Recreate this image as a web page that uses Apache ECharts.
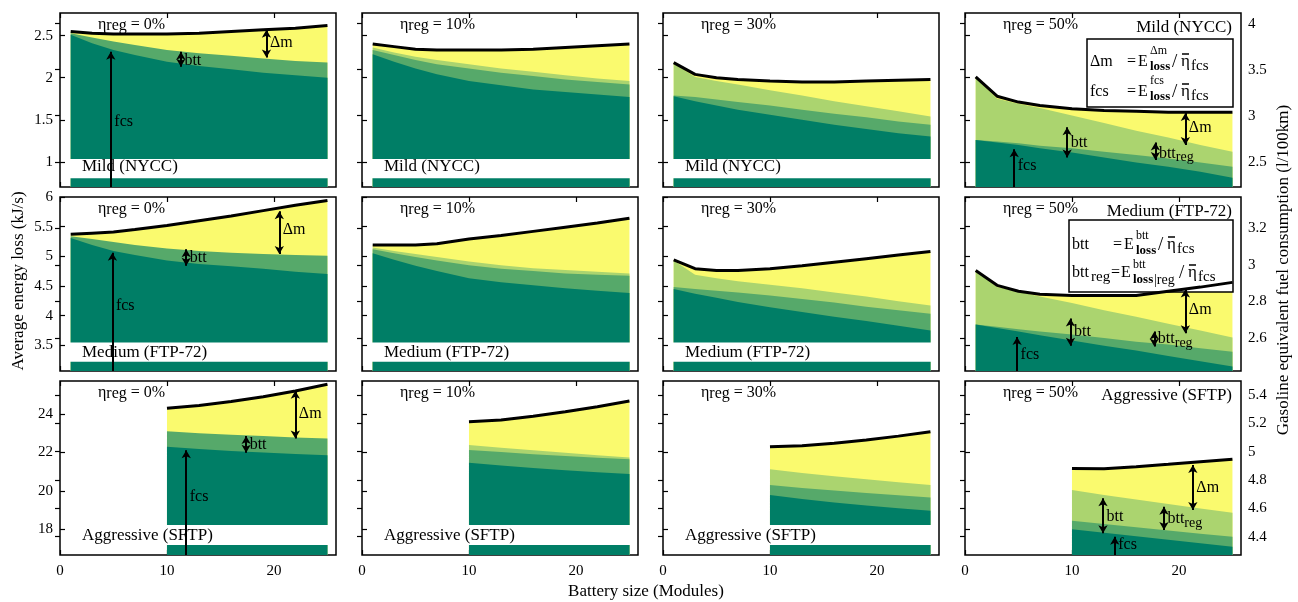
<!DOCTYPE html>
<html>
<head>
<meta charset="utf-8">
<script src="https://cdn.jsdelivr.net/npm/echarts@6/dist/echarts.min.js"></script>
<style>
  html, body { margin: 0; background: #fff; }
  #chart { width: 1298px; height: 602px; }
</style>
</head>
<body>
<div id="chart"></div>
<script>
const FONT = '"Liberation Serif", "DejaVu Serif", serif';
const C_DM = '#fafa6e', C_REG = '#abd46f', C_BTT = '#56a96a', C_FCS = '#007e66';

// battery size (modules)
const xsFull = [1, 3, 5, 7, 10, 13, 16, 19, 22, 25];
const xsAggr = [10, 13, 16, 19, 22, 25];
const etas = ['0%', '10%', '30%', '50%'];
const cycles = ['Mild (NYCC)', 'Medium (FTP-72)', 'Aggressive (SFTP)'];

// top of each layer (kJ/s), one row per eta_reg: 0%, 10%, 30%, 50%
const mildTotal = [
  [2.55, 2.53, 2.52, 2.52, 2.52, 2.53, 2.55, 2.57, 2.59, 2.62],
  [2.40, 2.37, 2.34, 2.33, 2.33, 2.33, 2.34, 2.36, 2.38, 2.40],
  [2.18, 2.04, 2.00, 1.98, 1.96, 1.95, 1.95, 1.96, 1.97, 1.98],
  [2.01, 1.78, 1.71, 1.67, 1.63, 1.61, 1.60, 1.59, 1.59, 1.59]
];
const mildReg = [
  null,
  [2.36, 2.30, 2.25, 2.21, 2.16, 2.11, 2.07, 2.03, 1.99, 1.96],
  [2.17, 2.01, 1.96, 1.92, 1.85, 1.79, 1.72, 1.66, 1.60, 1.54],
  [2.00, 1.75, 1.69, 1.64, 1.55, 1.46, 1.37, 1.29, 1.20, 1.12]
];
const mildBtt = [
  [2.53, 2.48, 2.43, 2.39, 2.33, 2.29, 2.26, 2.23, 2.20, 2.18],
  [2.33, 2.27, 2.21, 2.16, 2.11, 2.06, 2.02, 1.98, 1.95, 1.92],
  [1.79, 1.77, 1.74, 1.71, 1.67, 1.62, 1.57, 1.53, 1.48, 1.44],
  [1.26, 1.24, 1.22, 1.19, 1.16, 1.12, 1.08, 1.04, 0.99, 0.94]
];
const mildFcs = [
  [2.51, 2.41, 2.33, 2.27, 2.19, 2.14, 2.10, 2.06, 2.03, 2.00],
  [2.28, 2.19, 2.11, 2.04, 1.96, 1.91, 1.86, 1.83, 1.80, 1.77],
  [1.78, 1.72, 1.67, 1.62, 1.56, 1.50, 1.44, 1.39, 1.34, 1.30],
  [1.26, 1.23, 1.20, 1.16, 1.11, 1.05, 0.99, 0.94, 0.88, 0.81]
];

const medTotal = [
  [5.37, 5.39, 5.41, 5.45, 5.52, 5.60, 5.68, 5.77, 5.86, 5.94],
  [5.19, 5.19, 5.19, 5.21, 5.29, 5.35, 5.42, 5.49, 5.56, 5.64],
  [4.94, 4.79, 4.76, 4.76, 4.79, 4.84, 4.90, 4.96, 5.02, 5.08],
  [4.76, 4.51, 4.41, 4.36, 4.34, 4.34, 4.34, 4.41, 4.48, 4.56]
];
const medReg = [
  null,
  [5.15, 5.09, 5.04, 4.99, 4.91, 4.85, 4.80, 4.77, 4.74, 4.71],
  [4.93, 4.69, 4.63, 4.58, 4.52, 4.46, 4.39, 4.32, 4.24, 4.17],
  [4.76, 4.48, 4.40, 4.32, 4.21, 4.09, 3.98, 3.86, 3.75, 3.63]
];
const medBtt = [
  [5.34, 5.29, 5.24, 5.19, 5.13, 5.09, 5.06, 5.04, 5.02, 5.01],
  [5.12, 5.05, 4.99, 4.93, 4.85, 4.79, 4.75, 4.71, 4.69, 4.67],
  [4.48, 4.45, 4.42, 4.39, 4.34, 4.28, 4.22, 4.15, 4.09, 4.03],
  [3.85, 3.81, 3.77, 3.73, 3.68, 3.62, 3.56, 3.51, 3.45, 3.39]
];
const medFcs = [
  [5.31, 5.19, 5.09, 5.02, 4.93, 4.87, 4.83, 4.79, 4.74, 4.70],
  [5.05, 4.94, 4.84, 4.75, 4.63, 4.56, 4.51, 4.46, 4.42, 4.38],
  [4.45, 4.37, 4.30, 4.23, 4.14, 4.06, 3.98, 3.91, 3.83, 3.75],
  [3.85, 3.79, 3.73, 3.67, 3.58, 3.49, 3.41, 3.32, 3.23, 3.14]
];

const aggTotal = [
  [24.30, 24.45, 24.65, 24.90, 25.20, 25.55],
  [23.60, 23.69, 23.88, 24.12, 24.38, 24.68],
  [22.30, 22.35, 22.48, 22.65, 22.85, 23.08],
  [21.17, 21.15, 21.26, 21.38, 21.52, 21.64]
];
const aggReg = [
  null,
  [22.39, 22.25, 22.11, 21.98, 21.86, 21.74],
  [21.12, 20.93, 20.76, 20.60, 20.45, 20.30],
  [20.04, 19.79, 19.55, 19.31, 19.08, 18.86]
];
const aggBtt = [
  [23.11, 23.00, 22.92, 22.85, 22.78, 22.73],
  [22.13, 22.02, 21.91, 21.81, 21.72, 21.64],
  [20.30, 20.15, 20.02, 19.89, 19.77, 19.66],
  [18.44, 18.27, 18.10, 17.93, 17.77, 17.61]
];
const aggFcs = [
  [22.30, 22.18, 22.08, 22.00, 21.92, 21.86],
  [21.46, 21.32, 21.19, 21.07, 20.97, 20.88],
  [19.78, 19.58, 19.40, 19.24, 19.09, 18.96],
  [18.00, 17.82, 17.63, 17.45, 17.27, 17.09]
];

// axes per row
const leftMin = [0.70, 3.065, 16.66];
const leftMax = [2.77, 6.0, 25.72];
const leftTicks = [[1, 1.5, 2, 2.5], [3.5, 4, 4.5, 5, 5.5, 6], [18, 20, 22, 24]];
const rightMin = [2.226, 2.42, 4.27];
const rightMax = [4.116, 3.37, 5.50];
const rightTicks = [[2.5, 3, 3.5, 4], [2.6, 2.8, 3, 3.2], [4.4, 4.6, 4.8, 5, 5.2, 5.4]];
const xTicks = [0, 10, 20];
// white "broken axis" band near the bottom (kJ/s)
const bandLo = [0.805, 3.22, 17.18];
const bandHi = [1.032, 3.545, 18.22];

const rows = [
  { xs: xsFull, total: mildTotal, reg: mildReg, btt: mildBtt, fcs: mildFcs },
  { xs: xsFull, total: medTotal, reg: medReg, btt: medBtt, fcs: medFcs },
  { xs: xsAggr, total: aggTotal, reg: aggReg, btt: aggBtt, fcs: aggFcs }
];

// annotations: arrows [x, from, to, twoHeads] (from null = axis bottom), texts [x, y, text]
const notes = {
  '0-0': { arrows: [[4.75, null, 2.31], [11.3, 2.31, 2.13, 1], [19.3, 2.57, 2.24, 1]],
           texts: [[4.75, 1.47, 'fcs'], [11.3, 2.20, 'btt'], [19.3, 2.41, 'Δm']] },
  '1-0': { arrows: [[4.9, null, 5.06], [11.8, 5.12, 4.84, 1], [20.5, 5.76, 5.04, 1]],
           texts: [[4.9, 4.17, 'fcs'], [11.8, 4.97, 'btt'], [20.5, 5.45, 'Δm']] },
  '2-0': { arrows: [[11.8, null, 22.12], [17.4, 22.85, 21.98, 1], [22.0, 25.21, 22.73, 1]],
           texts: [[11.8, 19.7, 'fcs'], [17.4, 22.42, 'btt'], [22.0, 24.03, 'Δm']] },
  '0-3': { arrows: [[4.6, null, 1.15], [9.55, 1.41, 1.05, 1], [20.6, 1.58, 1.20, 1], [17.8, 1.23, 1.02, 1]],
           texts: [[4.6, 0.95, 'fcs'], [9.55, 1.22, 'btt'], [20.6, 1.41, 'Δm'], [17.8, 1.10, 'btt{s|reg}']] },
  '1-3': { arrows: [[4.87, null, 3.64], [9.86, 3.95, 3.49, 1], [20.6, 4.44, 3.70, 1], [17.7, 3.73, 3.48, 1]],
           texts: [[4.87, 3.34, 'fcs'], [9.86, 3.73, 'btt'], [20.6, 4.10, 'Δm'], [17.7, 3.60, 'btt{s|reg}']] },
  '2-3': { arrows: [[14.0, null, 17.61], [12.9, 19.61, 17.79, 1], [21.3, 21.34, 19.0, 1], [18.6, 19.17, 17.96, 1]],
           texts: [[14.0, 17.18, 'fcs'], [12.9, 18.65, 'btt'], [21.3, 20.18, 'Δm'], [18.6, 18.52, 'btt{s|reg}']] }
};

const colLeft = [60, 362, 663, 965];
const rowTop = [13, 197, 381];
const PW = 276, PH = 174;
const X_MAX = 25.8;

const grids = [], xAxes = [], yAxes = [], series = [], graphics = [];

function xAx(gi, pos, showLabel) {
  return {
    type: 'value', gridIndex: gi, position: pos, min: 0, max: X_MAX,
    splitLine: { show: false }, axisLine: { show: false },
    axisTick: { show: true, inside: true, length: 5, customValues: xTicks, lineStyle: { color: '#000', width: 1.2 } },
    axisLabel: { show: showLabel, customValues: xTicks, color: '#000', fontFamily: FONT, fontSize: 15, margin: 9 }
  };
}
function yAx(gi, pos, min, max, ticks, showLabel) {
  return {
    type: 'value', gridIndex: gi, position: pos, min: min, max: max,
    splitLine: { show: false }, axisLine: { show: false },
    axisTick: { show: true, inside: true, length: 5, customValues: ticks, lineStyle: { color: '#000', width: 1.2 } },
    axisLabel: { show: showLabel, customValues: ticks, color: '#000', fontFamily: FONT, fontSize: 15, margin: 7 }
  };
}
function area(p, xs, ys, color) {
  return {
    type: 'line', xAxisIndex: 2 * p, yAxisIndex: 2 * p, data: xs.map((x, i) => [x, ys[i]]),
    symbol: 'none', silent: true, animation: false, z: 2,
    lineStyle: { width: 0, opacity: 0 }, areaStyle: { color: color, opacity: 1, origin: 'start' }
  };
}

for (let r = 0; r < 3; r++) {
  for (let c = 0; c < 4; c++) {
    const p = r * 4 + c;
    const d = rows[r];
    grids.push({ left: colLeft[c], top: rowTop[r], width: PW, height: PH, show: true,
      borderColor: '#000', borderWidth: 1.5, backgroundColor: '#fff' });
    xAxes.push(xAx(p, 'bottom', r === 2), xAx(p, 'top', false));
    yAxes.push(yAx(p, 'left', leftMin[r], leftMax[r], leftTicks[r], c === 0),
               yAx(p, 'right', rightMin[r], rightMax[r], rightTicks[r], c === 3));

    series.push(area(p, d.xs, d.total[c], C_DM));
    if (d.reg[c]) series.push(area(p, d.xs, d.reg[c], C_REG));
    series.push(area(p, d.xs, d.btt[c], C_BTT));
    series.push(area(p, d.xs, d.fcs[c], C_FCS));

    const top = {
      type: 'line', xAxisIndex: 2 * p, yAxisIndex: 2 * p,
      data: d.xs.map((x, i) => [x, d.total[c][i]]),
      symbol: 'none', silent: true, animation: false, z: 3,
      lineStyle: { color: '#000', width: 3 }
    };
    if (c < 3) {
      const x0 = d.xs[0], x1 = d.xs[d.xs.length - 1];
      top.markArea = {
        silent: true, animation: false, z: 4, itemStyle: { color: '#fff' },
        data: [[{ xAxis: x0 - 0.3, yAxis: bandLo[r] }, { xAxis: x1 + 0.3, yAxis: bandHi[r] }]]
      };
    }
    const n = notes[r + '-' + c];
    if (n) {
      top.markLine = {
        silent: true, animation: false, z: 6, symbolSize: [7, 8],
        lineStyle: { color: '#000', width: 2, type: 'solid' },
        label: { show: false }, emphasis: { disabled: true },
        data: n.arrows.map(a => [
          { coord: [a[0], a[1] === null ? leftMin[r] : a[1]], symbol: a[3] ? 'arrow' : 'none' },
          { coord: [a[0], a[2]], symbol: 'arrow' }
        ])
      };
      top.markPoint = {
        silent: true, animation: false, z: 6, symbol: 'circle', symbolSize: 1,
        itemStyle: { color: 'rgba(0,0,0,0)' },
        label: {
          show: true, position: 'right', distance: 3, color: '#000', fontFamily: FONT, fontSize: 16, lineHeight: 22,
          rich: { s: { fontSize: 14, fontFamily: FONT, color: '#000', verticalAlign: 'bottom', lineHeight: 14 } }
        },
        data: n.texts.map(t => ({ coord: [t[0], t[1]], value: 0, label: { formatter: t[2] } }))
      };
    }
    series.push(top);

    // eta_reg title
    graphics.push({
      type: 'text', x: colLeft[c] + 38, y: rowTop[r] + 12, z: 100,
      style: {
        text: 'η{s|reg} = ' + etas[c], fill: '#000', font: '16px ' + FONT,
        align: 'left', verticalAlign: 'middle', lineHeight: 18,
        rich: { s: { fontSize: 16, fontFamily: FONT, fill: '#000', verticalAlign: 'bottom', lineHeight: 16 } }
      }
    });
    // driving cycle label
    if (c < 3) {
      graphics.push({ type: 'text', x: colLeft[c] + 22, y: [167, 353, 536][r], z: 100,
        style: { text: cycles[r], fill: '#000', font: '17px ' + FONT, align: 'left', verticalAlign: 'middle' } });
    } else {
      graphics.push({ type: 'text', x: colLeft[c] + PW - 9, y: rowTop[r] + 15, z: 100,
        style: { text: cycles[r], fill: '#000', font: '17px ' + FONT, align: 'right', verticalAlign: 'middle' } });
    }
  }
}

function txt(x, y, s, size, bold) {
  return { type: 'text', x: x, y: y, z: 110,
    style: { text: s, fill: '#000', font: (bold ? 'bold ' : '') + size + 'px ' + FONT, align: 'left', verticalAlign: 'middle' } };
}
// formula box sits above the areas but under the black total line
function box(x, y, w, h) {
  return { type: 'rect', z: 2.5, shape: { x: x, y: y, width: w, height: h },
    style: { fill: '#fff', stroke: '#000', lineWidth: 1.5 } };
}
// "/ eta-bar fcs" tail of a formula, starting at x
function etaBar(x, y) {
  return [
    txt(x, y, '/', 19),
    txt(x + 9, y, 'η', 17),
    { type: 'line', z: 110, shape: { x1: x + 10, y1: y - 8, x2: x + 17, y2: y - 8 }, style: { stroke: '#000', lineWidth: 1.5 } },
    txt(x + 19, y + 4, 'fcs', 15)
  ];
}

graphics.push(
  // legend box (mild)
  box(1087, 39, 146, 68),
  txt(1090, 62, 'Δm', 16), txt(1127, 62, '=', 16), txt(1138, 62, 'E', 16),
  txt(1150, 51, 'Δm', 12), txt(1150, 67, 'loss', 13, true),
  ...etaBar(1172, 62),
  txt(1090, 92, 'fcs', 16), txt(1127, 92, '=', 16), txt(1138, 92, 'E', 16),
  txt(1150, 81, 'fcs', 12), txt(1150, 97, 'loss', 13, true),
  ...etaBar(1172, 92),
  // legend box (medium)
  box(1069, 220, 164, 72),
  txt(1072, 245, 'btt', 16), txt(1113, 245, '=', 16), txt(1124, 245, 'E', 16),
  txt(1136, 236, 'btt', 12), txt(1136, 251, 'loss', 13, true),
  ...etaBar(1158, 245),
  txt(1072, 273, 'btt', 16), txt(1091, 277, 'reg', 15), txt(1111, 273, '=', 16), txt(1121, 273, 'E', 16),
  txt(1133, 265, 'btt', 12), txt(1133, 280, 'loss', 13, true),
  txt(1154, 280, '|reg', 14),
  ...etaBar(1179, 273),
  // axis titles
  { type: 'text', x: 19, y: 281, rotation: Math.PI / 2, z: 100,
    style: { text: 'Average energy loss (kJ/s)', fill: '#000', font: '17px ' + FONT, align: 'center', verticalAlign: 'middle' } },
  { type: 'text', x: 1284, y: 270, rotation: Math.PI / 2, z: 100,
    style: { text: 'Gasoline equivalent fuel consumption (l/100km)', fill: '#000', font: '17px ' + FONT, align: 'center', verticalAlign: 'middle' } },
  { type: 'text', x: 646, y: 592, z: 100,
    style: { text: 'Battery size (Modules)', fill: '#000', font: '17px ' + FONT, align: 'center', verticalAlign: 'middle' } }
);

const chart = echarts.init(document.getElementById('chart'));
chart.setOption({
  animation: false,
  backgroundColor: '#fff',
  grid: grids,
  xAxis: xAxes,
  yAxis: yAxes,
  series: series,
  graphic: graphics
});
window.addEventListener('resize', () => chart.resize());
</script>
</body>
</html>
